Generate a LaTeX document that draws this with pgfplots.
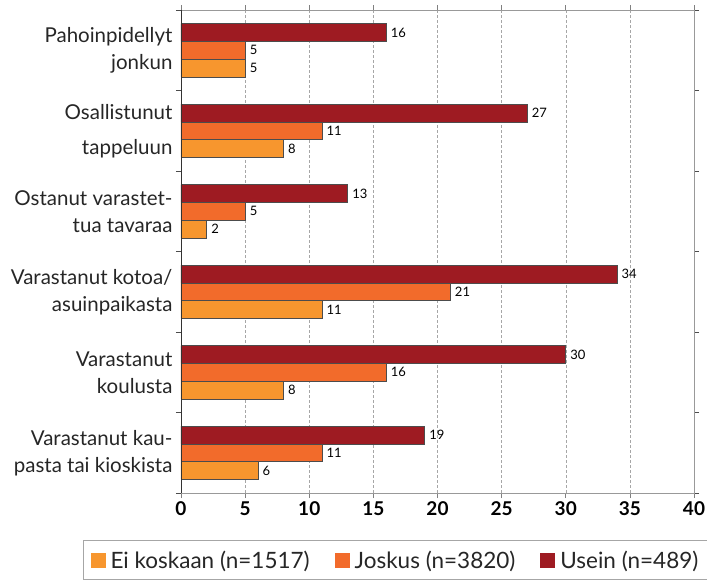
\documentclass[border=0pt]{standalone}
\usepackage{pgfplots}
\pgfplotsset{compat=1.18}
\usepackage{fontspec}
\setmainfont{Lato}
\definecolor{ei}{HTML}{F7962E}
\definecolor{jos}{HTML}{F26B2B}
\definecolor{use}{HTML}{9E1B22}
\begin{document}
\begin{tikzpicture}
\begin{axis}[
  scale only axis, width=513pt, height=483pt,
  xbar, bar width=0.22, y dir=reverse,
  xmin=0, xmax=40, ymin=0.5, ymax=6.5,
  xtick={0,5,...,40},
  ytick={1,...,6},
  minor ytick={0.5,1.5,...,6.5},
  yticklabels={{Pahoinpidellyt\\jonkun},{Osallistunut\\[8pt]tappeluun},{Ostanut varastet-\\tua tavaraa},{Varastanut kotoa/\\asuinpaikasta},{Varastanut\\koulusta},{Varastanut kau-\\pasta tai kioskista}},
  yticklabel style={align=right, font=\fontsize{20.5}{27}\selectfont, text=black!85},
  xticklabel style={font=\fontsize{19}{22}\selectfont\bfseries},
  /pgf/number format/assume math mode=true,
  tick align=outside,
  major y tick style={draw=none},
  minor y tick style={black!70, line width=0.6pt},
  minor tick length=5pt,
  major tick length=5pt,
  x tick style={gray, line width=0.6pt},
  axis line style={gray!80, line width=0.6pt},
  xmajorgrids, grid style={densely dashed, gray!70, line width=0.5pt},
  nodes near coords,
  every node near coord/.append style={font=\fontsize{13}{13}\selectfont, anchor=west, text=black, xshift=1pt},
  legend columns=3,
  legend style={at={(0.418,-0.139)}, anchor=center, draw=gray!70, line width=0.6pt, font=\fontsize{22.5}{25}\selectfont, text=black!85,
    /tikz/every even column/.append style={column sep=23pt},
    /tikz/every odd column/.append style={column sep=3pt},
    inner xsep=7pt, inner ysep=8pt},
  legend image code/.code={\fill[#1, draw=none] (0pt,-7.5pt) rectangle (15pt,7.5pt);},
]
\addplot[fill=ei, draw=black!70, line width=0.6pt, bar shift=0.22] coordinates {(5,1) (8,2) (2,3) (11,4) (8,5) (6,6)};
\addlegendentry{Ei koskaan (n=1517)}
\addplot[fill=jos, draw=black!70, line width=0.6pt, bar shift=0] coordinates {(5,1) (11,2) (5,3) (21,4) (16,5) (11,6)};
\addlegendentry{Joskus (n=3820)}
\addplot[fill=use, draw=black!70, line width=0.6pt, bar shift=-0.22] coordinates {(16,1) (27,2) (13,3) (34,4) (30,5) (19,6)};
\addlegendentry{Usein (n=489)}
\end{axis}
\draw[black!80, line width=0.7pt] (current axis.south west) -- (current axis.north west);
\pgfresetboundingbox
\useasboundingbox ([xshift=-181pt,yshift=-88pt]current axis.south west) rectangle ([xshift=13pt,yshift=10pt]current axis.north east);
\end{tikzpicture}
\end{document}
